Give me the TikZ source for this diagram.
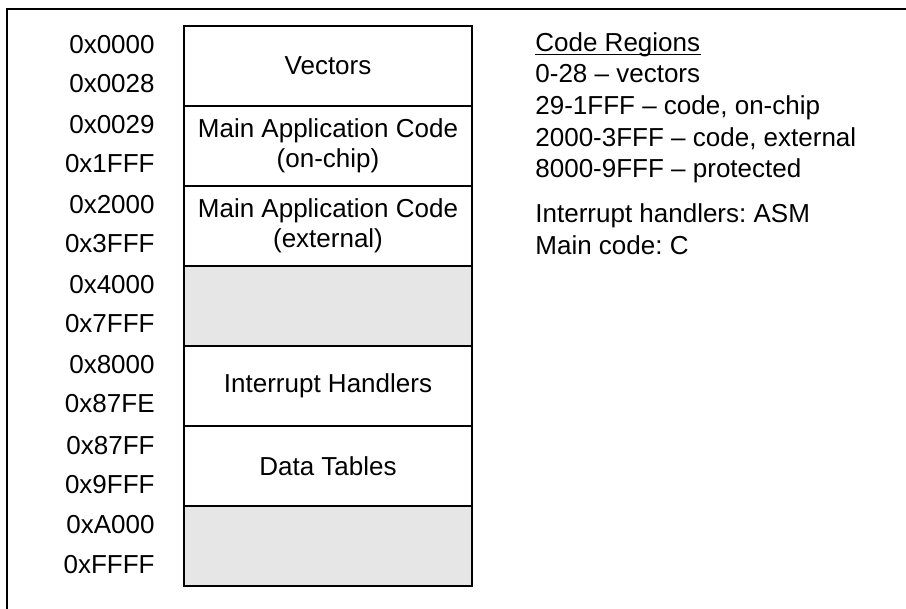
\documentclass[tikz,border=0pt]{standalone}
\usepackage{fontspec}
\setmainfont{Liberation Sans}
\definecolor{shade}{HTML}{E6E6E6}
\frenchspacing
\begin{document}
\begin{tikzpicture}[x=0.5bp,y=-0.5bp,
  every node/.style={font=\fontsize{13bp}{15bp}\selectfont, inner sep=0pt},
  region/.style={draw, line width=1bp, minimum width=144bp, minimum height=40bp, align=center, anchor=north west},
  blank/.style={region, fill=shade},
  addr/.style={anchor=base east},
  note/.style={anchor=base west},
  frame/.style={line width=1bp}]
\useasboundingbox (0,0) rectangle (906,609);
\coordinate (fbl) at (7,612);
\coordinate (ftl) at (7,9);
\coordinate (ftr) at (910,9);
\draw[frame] (fbl) -- (ftl) -- (ftr);

\node[region] (r1) at (183,25) {Vectors};
\node[region] (r2) at (183,105) {Main Application Code\\(on-chip)};
\node[region] (r3) at (183,185) {Main Application Code\\(external)};
\node[blank] (r4) at (183,265) {};
\node[region] (r5) at (183,345) {Interrupt Handlers};
\node[region] (r6) at (183,425) {Data Tables};
\node[blank] (r7) at (183,505) {};

\node[addr] (a1) at (155,54) {0x0000};
\node[addr] (a2) at (155,93) {0x0028};
\node[addr] (a3) at (155,134) {0x0029};
\node[addr] (a4) at (155,173) {0x1FFF};
\node[addr] (a5) at (155,214) {0x2000};
\node[addr] (a6) at (155,253) {0x3FFF};
\node[addr] (a7) at (155,294) {0x4000};
\node[addr] (a8) at (155,333) {0x7FFF};
\node[addr] (a9) at (155,374) {0x8000};
\node[addr] (a10) at (155,413) {0x87FE};
\node[addr] (a11) at (155,454) {0x87FF};
\node[addr] (a12) at (155,493) {0x9FFF};
\node[addr] (a13) at (155,534) {0xA000};
\node[addr] (a14) at (155,573) {0xFFFF};

\node[note] (n1) at (535,52) {Code Regions};
\draw[line width=0.6bp] ([yshift=-1.2bp]n1.base west) -- ([yshift=-1.2bp]n1.base east);
\node[note] (n2) at (535,83) {0-28 – vectors};
\node[note] (n3) at (535,115) {29-1FFF – code, on-chip};
\node[note] (n4) at (535,147) {2000-3FFF – code, external};
\node[note] (n5) at (535,178) {8000-9FFF – protected};
\node[note] (n6) at (535,223) {Interrupt handlers: ASM};
\node[note] (n7) at (535,255) {Main code: C};
\end{tikzpicture}
\end{document}
